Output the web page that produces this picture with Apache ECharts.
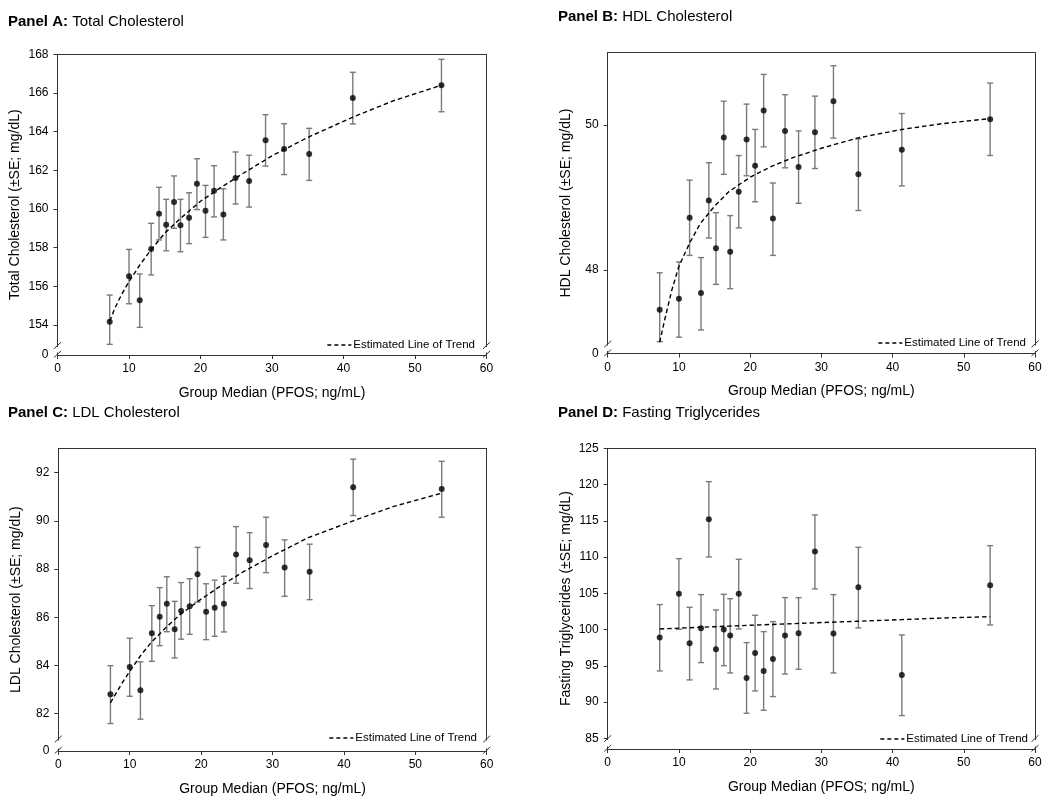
<!DOCTYPE html>
<html><head><meta charset="utf-8">
<script src="https://cdn.jsdelivr.net/npm/echarts@6/dist/echarts.min.js"></script>
<style>html,body{margin:0;padding:0;background:#fff}#c{width:1050px;height:800px}</style>
</head><body><div id="c"></div>
<script>
// ---------- DATA ----------
const groupMedian = [7.3, 10.0, 11.5, 13.1, 14.2, 15.2, 16.3, 17.2, 18.4, 19.5, 20.7, 21.9, 23.2, 24.9, 26.8, 29.1, 31.7, 35.2, 41.3, 53.7];

const totalMean = [154.17, 156.52, 155.28, 157.93, 159.76, 159.19, 160.36, 159.16, 159.55, 161.31, 159.91, 160.95, 159.72, 161.60, 161.45, 163.55, 163.10, 162.84, 165.74, 166.40];
const totalLow  = [153.00, 155.10, 153.88, 156.59, 158.40, 157.84, 159.00, 157.79, 158.21, 159.97, 158.53, 159.59, 158.40, 160.26, 160.10, 162.22, 161.78, 161.48, 164.40, 165.03];
const totalHigh = [155.55, 157.91, 156.64, 159.26, 161.12, 160.50, 161.71, 160.50, 160.84, 162.60, 161.22, 162.24, 161.05, 162.95, 162.78, 164.88, 164.41, 164.17, 167.07, 167.74];

const hdlMean = [47.45, 47.60, 48.72, 47.68, 48.96, 48.30, 49.83, 48.25, 49.08, 49.80, 49.44, 50.20, 48.71, 49.92, 49.42, 49.90, 50.33, 49.32, 49.66, 50.08];
const hdlLow  = [47.01, 47.07, 48.20, 47.17, 48.44, 47.80, 49.32, 47.74, 48.58, 49.30, 48.94, 49.70, 48.20, 49.41, 48.92, 49.40, 49.82, 48.82, 49.16, 49.58];
const hdlHigh = [47.96, 48.11, 49.24, 48.17, 49.48, 48.79, 50.33, 48.75, 49.58, 50.29, 49.94, 50.70, 49.20, 50.42, 49.92, 50.40, 50.82, 49.81, 50.16, 50.58];

const ldlMean = [82.80, 83.94, 82.97, 85.34, 86.02, 86.56, 85.50, 86.26, 86.46, 87.78, 86.23, 86.39, 86.56, 88.60, 88.37, 89.00, 88.06, 87.89, 91.39, 91.32];
const ldlLow  = [81.59, 82.72, 81.77, 84.17, 84.82, 85.40, 84.31, 85.09, 85.29, 86.63, 85.07, 85.21, 85.39, 87.41, 87.19, 87.85, 86.87, 86.73, 90.22, 90.15];
const ldlHigh = [83.99, 85.13, 84.15, 86.48, 87.23, 87.68, 86.66, 87.44, 87.60, 88.90, 87.39, 87.54, 87.70, 89.76, 89.51, 90.15, 89.21, 89.03, 92.56, 92.47];

const tgMean = [98.89, 104.95, 98.10, 100.17, 115.21, 97.28, 99.99, 99.16, 104.95, 93.32, 96.77, 94.29, 95.94, 99.16, 99.48, 110.75, 99.44, 105.83, 93.74, 106.10];
const tgLow  = [94.29, 100.03, 93.05, 95.44, 110.01, 91.80, 95.02, 94.01, 100.08, 88.45, 91.53, 88.86, 90.75, 93.87, 94.52, 105.60, 94.01, 100.22, 88.13, 100.63];
const tgHigh = [103.44, 109.78, 103.07, 104.82, 120.40, 102.70, 104.86, 104.26, 109.69, 98.20, 101.97, 99.71, 101.09, 104.40, 104.40, 115.80, 104.82, 111.34, 99.25, 111.57];

const trendX     = [7.3, 8, 9, 10, 11.5, 13, 15, 17, 20, 23, 26, 30, 35, 41.3, 47, 53.7];
const totalTrend = [154.2, 154.85, 155.6, 156.25, 157.1, 157.85, 158.75, 159.45, 160.4, 161.15, 161.85, 162.75, 163.7, 164.75, 165.6, 166.4];
const hdlTrend   = [47.0, 47.31, 47.72, 48.05, 48.37, 48.64, 48.88, 49.08, 49.28, 49.43, 49.55, 49.68, 49.82, 49.94, 50.02, 50.09];
const ldlTrend   = [82.45, 82.8, 83.3, 83.75, 84.4, 84.95, 85.55, 86.1, 86.75, 87.35, 87.9, 88.55, 89.3, 90.0, 90.6, 91.15];
const tgTrend    = [100.08, 100.11, 100.15, 100.19, 100.25, 100.31, 100.39, 100.47, 100.59, 100.7, 100.81, 100.96, 101.14, 101.37, 101.58, 101.78];

const xTicks = [0, 10, 20, 30, 40, 50, 60];
const totalTicks = [154, 156, 158, 160, 162, 164, 166, 168];
const hdlTicks = [48, 50];
const ldlTicks = [82, 84, 86, 88, 90, 92];
const tgTicks = [85, 90, 95, 100, 105, 110, 115, 120, 125];

const panelTitles = ['Panel A:', 'Panel B:', 'Panel C:', 'Panel D:'];
const panelNames = ['Total Cholesterol', 'HDL Cholesterol', 'LDL Cholesterol', 'Fasting Triglycerides'];
const yNames = ['Total Cholesterol (\u00b1SE; mg/dL)', 'HDL Cholesterol (\u00b1SE; mg/dL)', 'LDL Cholesterol (\u00b1SE; mg/dL)', 'Fasting Triglycerides (\u00b1SE; mg/dL)'];
const xName = 'Group Median (PFOS; ng/mL)';
const trendName = 'Estimated Line of Trend';
const breakLabel = '0';

// ---------- LAYOUT ----------
const FONT = 'Liberation Sans, Arial, Helvetica, sans-serif';
const AX = '#333';
const panels = [
  {gl: 57.5, gr: 486.5, gt: 54.3, gb: 355, yMin: 152.45, yMax: 168, brk: 345.5, zeroLabel: true,
   mean: totalMean, low: totalLow, high: totalHigh, trend: totalTrend, ticks: totalTicks,
   titleLeft: 8, titleTop: 14, legRight: 575, legTop: 339},
  {gl: 607.7, gr: 1035, gt: 52.7, gb: 353.5, yMin: 46.845, yMax: 51.0, brk: 344, zeroLabel: true,
   mean: hdlMean, low: hdlLow, high: hdlHigh, trend: hdlTrend, ticks: hdlTicks,
   titleLeft: 558, titleTop: 9, legRight: 24, legTop: 337},
  {gl: 58.3, gr: 486.7, gt: 448.3, gb: 751, yMin: 80.45, yMax: 93.01, brk: 739, zeroLabel: true,
   mean: ldlMean, low: ldlLow, high: ldlHigh, trend: ldlTrend, ticks: ldlTicks,
   titleLeft: 8, titleTop: 405, legRight: 573, legTop: 732},
  {gl: 607.7, gr: 1035, gt: 448.3, gb: 749, yMin: 83.52, yMax: 125, brk: 738.5, zeroLabel: false,
   mean: tgMean, low: tgLow, high: tgHigh, trend: tgTrend, ticks: tgTicks,
   titleLeft: 558, titleTop: 405, legRight: 22, legTop: 733}
];

const option = {
  backgroundColor: '#fff',
  animation: false,
  textStyle: {fontFamily: FONT},
  title: [], grid: [], xAxis: [], yAxis: [], series: [], legend: [], graphic: []
};

panels.forEach((p, i) => {
  option.title.push({
    text: '{b|' + panelTitles[i] + '} ' + panelNames[i],
    left: p.titleLeft, top: p.titleTop, padding: 0,
    textStyle: {fontSize: 15, fontWeight: 'normal', color: '#000', fontFamily: FONT,
      rich: {b: {fontSize: 15, fontWeight: 'bold', color: '#000', fontFamily: FONT}}}
  });
  option.grid.push({left: p.gl, top: p.gt, width: p.gr - p.gl, height: p.gb - p.gt, outerBoundsMode: 'none', containLabel: false});
  option.xAxis.push({
    type: 'value', gridIndex: i, position: 'bottom', min: xTicks[0], max: xTicks[xTicks.length - 1], interval: 10,
    name: xName, nameLocation: 'middle', nameGap: 31,
    nameTextStyle: {fontSize: 14, color: '#000', fontFamily: FONT},
    axisLine: {show: true, lineStyle: {color: AX, width: 1}},
    axisTick: {show: true, inside: false, length: 4, lineStyle: {color: AX}},
    axisLabel: {fontSize: 12, color: '#000', margin: 8, fontFamily: FONT},
    splitLine: {show: false}
  });
  option.xAxis.push({
    type: 'value', gridIndex: i, position: 'top', min: 0, max: 60,
    axisLine: {show: true, lineStyle: {color: AX, width: 1}},
    axisTick: {show: false}, axisLabel: {show: false}, splitLine: {show: false}
  });
  const labelVals = p.zeroLabel ? [p.yMin].concat(p.ticks) : p.ticks.slice();
  const ymin = p.yMin;
  option.yAxis.push({
    type: 'value', gridIndex: i, position: 'left', min: p.yMin, max: p.yMax,
    name: yNames[i], nameLocation: 'middle', nameGap: 35,
    nameTextStyle: {fontSize: 14, color: '#000', fontFamily: FONT},
    axisLine: {show: true, onZero: false, lineStyle: {color: AX, width: 1}},
    axisTick: {show: true, inside: false, length: 4, customValues: p.ticks, lineStyle: {color: AX}},
    axisLabel: {fontSize: 12, color: '#000', margin: 9, fontFamily: FONT, customValues: labelVals,
      formatter: v => (Math.abs(v - ymin) < 1e-6 ? breakLabel : String(v))},
    splitLine: {show: false}
  });
  option.yAxis.push({
    type: 'value', gridIndex: i, position: 'right', min: 0, max: 1,
    axisLine: {show: true, onZero: false, lineStyle: {color: AX, width: 1}},
    axisTick: {show: false}, axisLabel: {show: false}, splitLine: {show: false}
  });
  const xi = i * 2, yi = i * 2;
  option.series.push({
    type: 'custom', name: 'err' + i, xAxisIndex: xi, yAxisIndex: yi, z: 2,
    renderItem: (params, api) => {
      const x = api.value(0), lo = api.value(1), hi = api.value(2);
      const a = api.coord([x, lo]), b = api.coord([x, hi]);
      const w = 3;
      const st = {stroke: '#7a7a7a', lineWidth: 1.4};
      return {type: 'group', children: [
        {type: 'line', shape: {x1: a[0], y1: a[1], x2: b[0], y2: b[1]}, style: st},
        {type: 'line', shape: {x1: b[0] - w, y1: b[1], x2: b[0] + w, y2: b[1]}, style: st},
        {type: 'line', shape: {x1: a[0] - w, y1: a[1], x2: a[0] + w, y2: a[1]}, style: st}
      ]};
    },
    encode: {x: 0, y: [1, 2]},
    data: groupMedian.map((x, k) => [x, p.low[k], p.high[k]])
  });
  option.series.push({
    type: 'line', name: trendName, xAxisIndex: xi, yAxisIndex: yi, z: 3,
    symbol: 'none', showSymbol: false, smooth: false,
    lineStyle: {color: '#000', width: 1.4, type: [4.5, 3]},
    itemStyle: {color: '#000'},
    data: trendX.map((x, k) => [x, p.trend[k]])
  });
  option.series.push({
    type: 'scatter', name: 'mean' + i, xAxisIndex: xi, yAxisIndex: yi, z: 4,
    symbol: 'circle', symbolSize: 6, itemStyle: {color: '#000'},
    data: groupMedian.map((x, k) => [x, p.mean[k]])
  });
  option.legend.push({
    data: [trendName], right: p.legRight, top: p.legTop, padding: 0, selectedMode: false,
    itemWidth: 24, itemHeight: 10, itemGap: 0,
    itemStyle: {opacity: 0},
    lineStyle: {color: '#000', width: 1.3, type: [4, 3]},
    textStyle: {fontSize: 11.5, color: '#000', fontFamily: FONT, padding: [0, 0, 0, -3]}
  });
  const gapTop = p.brk + 1.5, gapBot = p.gb - 2.5;
  [p.gl, p.gr].forEach(xx => {
    option.graphic.push({type: 'rect', z: 50, silent: true,
      shape: {x: xx - 4, y: gapTop, width: 8, height: gapBot - gapTop}, style: {fill: '#fff'}});
    option.graphic.push({type: 'line', z: 51, silent: true,
      shape: {x1: xx - 3.5, y1: p.brk + 3.3, x2: xx + 3.5, y2: p.brk - 3.3}, style: {stroke: AX, lineWidth: 1}});
    option.graphic.push({type: 'line', z: 51, silent: true,
      shape: {x1: xx - 3.5, y1: p.gb + 2.5, x2: xx + 3.5, y2: p.gb - 4}, style: {stroke: AX, lineWidth: 1}});
  });
});

const chart = echarts.init(document.getElementById('c'), null, {renderer: 'canvas'});
chart.setOption(option);
</script>
</body></html>
